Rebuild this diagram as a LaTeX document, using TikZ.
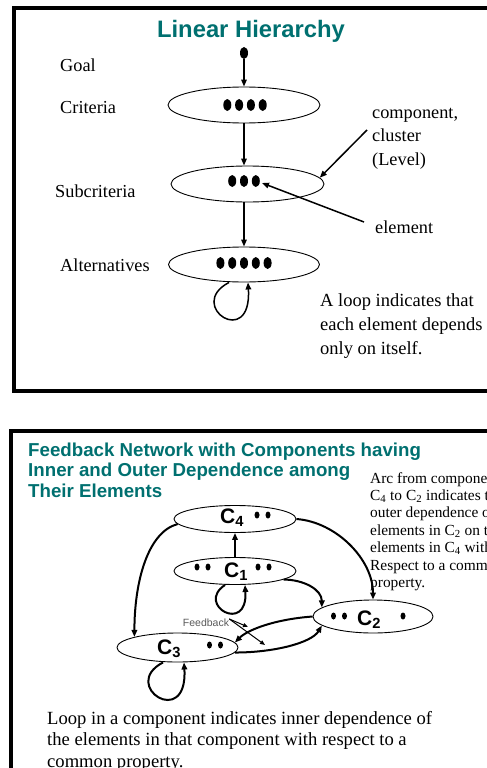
\documentclass[tikz,border=0pt]{standalone}
\usepackage{fontspec}
\setmainfont{Liberation Serif}
\setsansfont{Liberation Sans}
\usetikzlibrary{arrows.meta}
\usetikzlibrary{shapes.geometric}
\definecolor{titleTeal}{RGB}{0,112,112}
\definecolor{noteGrey}{RGB}{90,90,90}
\newcommand{\dotRow}[5]{%%
  %% A row of #2 filled dots centred on #1.
  \foreach \k in {1,...,#2}
    \fill ([xshift={(\k-(#2+1)/2)*#3}]#1) ellipse ({#4} and {#5});
}
\newcommand{\componentLabel}[3]{%%
  \node[componentStyle] (#1Label) at (#2) {C\textsubscript{#3}};
}

\begin{document}
\begin{tikzpicture}[%%
  x=1pt,y=-1pt,%%
  frameStyle/.style={draw,line width=4pt},%%
  levelStyle/.style={draw,ellipse,line width=0.9pt,inner sep=0pt},%%
  goalStyle/.style={ellipse,fill=black,inner sep=0pt,minimum width=8pt,minimum height=12pt},%%
  arrowStyle/.style={-{Triangle[length=7pt,width=5.5pt]},line width=1.5pt},%%
  netArrowStyle/.style={arrowStyle,line width=2pt},%%
  thinArrowStyle/.style={-{Triangle[length=5pt,width=4pt]},line width=1pt},%%
  labelStyle/.style={inner sep=0pt,anchor=base west,align=left,font=\fontsize{18.3}{23.5}\selectfont},%%
  noteStyle/.style={inner sep=0pt,anchor=base west,align=left,font=\fontsize{15.4}{17.4}\selectfont},%%
  titleStyle/.style={inner sep=0pt,anchor=base west,align=left,text=titleTeal,font=\sffamily\bfseries\fontsize{18.7}{20.8}\selectfont},%%
  componentStyle/.style={inner sep=0pt,anchor=base west,font=\sffamily\bfseries\fontsize{21}{24}\selectfont}
]
%%
%%
\useasboundingbox (0,0) rectangle (487,768);
\clip (0,0) rectangle (487,768);
%% The two frames.
\draw[frameStyle] (13.5,8.5) rectangle (530,390.5);
\draw[frameStyle] (11,431) rectangle (530,800);
%%
%% The linear hierarchy.
\node[titleStyle,anchor=base,font=\sffamily\bfseries\fontsize{23.8}{28}\selectfont] (hierarchyTitle) at (251,37.5) {Linear Hierarchy};
\node[goalStyle] (goal) at (244,53) {};
\node[levelStyle,minimum width=152pt,minimum height=36pt] (criteria) at (244,105) {};
\node[levelStyle,minimum width=153pt,minimum height=36pt] (subcriteria) at (247.5,184) {};
\node[levelStyle,minimum width=151pt,minimum height=35pt] (alternatives) at (244,264.5) {};
\coordinate (criteriaDots) at (245,105);
\coordinate (subcriteriaDots) at (244,181);
\coordinate (alternativesDots) at (244,263);
\dotRow{criteriaDots}{4}{11.8}{4}{6}
\dotRow{subcriteriaDots}{3}{11.8}{4}{6}
\dotRow{alternativesDots}{5}{11.8}{4}{6}
%% Level names.
\node[labelStyle] (goalLabel) at (60,71) {Goal};
\node[labelStyle] (criteriaLabel) at (60,113) {Criteria};
\node[labelStyle] (subcriteriaLabel) at (55,197) {Subcriteria};
\node[labelStyle] (alternativesLabel) at (60,271) {Alternatives};
%% Arrows down the hierarchy.
\draw[arrowStyle] (goal) -- (criteria);
\draw[arrowStyle] (criteria.south) -- (criteria.south |- subcriteria.north);
\draw[arrowStyle] (criteria.south |- subcriteria.south) -- (alternatives.north);
\draw[arrowStyle] ([xshift=-15]alternatives.south) .. controls +(-44,23) and +(4,68) .. ([xshift=4]alternatives.south);
%% Notes (multi-line nodes sit on their last line).
\node[labelStyle] (componentNote) at (372,165) {component,\\cluster\\(Level)};
\node[labelStyle] (elementNote) at (375,233) {element};
\node[labelStyle,font=\fontsize{18.5}{24}\selectfont] (loopNote) at (320,354) {A loop indicates that\\each element depends\\only on itself.};
\coordinate (componentTail) at (367,130);
\coordinate (elementTail) at (364,222);
\coordinate (elementTip) at (262,183);
\draw[arrowStyle] (componentTail) -- (subcriteria.5);
\draw[arrowStyle] (elementTail) -- (elementTip);
%%
%% The feedback network.
\node[titleStyle] (networkTitle) at (28,497.6) {Feedback Network with Components having\\Inner and Outer Dependence among\\Their Elements};
\node[levelStyle,minimum width=122pt,minimum height=27pt] (cFour) at (235,519) {};
\node[levelStyle,minimum width=122pt,minimum height=27pt] (cOne) at (235,571) {};
\node[levelStyle,minimum width=120pt,minimum height=33pt] (cTwo) at (373,616.5) {};
\node[levelStyle,minimum width=121pt,minimum height=29pt] (cThree) at (177.5,647.5) {};
\componentLabel{cFour}{220,523}{4}
\componentLabel{cOne}{224,577}{1}
\componentLabel{cTwo}{357,625}{2}
\componentLabel{cThree}{157,654}{3}
\coordinate (cFourDots) at (262.5,515);
\coordinate (cOneLeftDots) at (202.5,567);
\coordinate (cOneRightDots) at (263.5,567);
\coordinate (cTwoLeftDots) at (339,616);
\coordinate (cTwoRightDot) at (403,616);
\coordinate (cThreeDots) at (215,645);
\dotRow{cFourDots}{2}{11}{2.5}{3.5}
\dotRow{cOneLeftDots}{2}{11}{2.5}{3.5}
\dotRow{cOneRightDots}{2}{11}{2.5}{3.5}
\dotRow{cTwoLeftDots}{2}{11}{2.5}{3.5}
\dotRow{cTwoRightDot}{1}{11}{2.5}{3.5}
\dotRow{cThreeDots}{2}{11}{2.5}{3.5}
%% Outer dependence.
\draw[netArrowStyle] (cOne) -- (cFour);
\draw[netArrowStyle] (cFour.185) .. controls +(-30,8) and +(0,-55) .. (cThree.north west);
\draw[netArrowStyle] (cFour.east) .. controls +(40,3) and +(0,-40) .. (cTwo.north);
\draw[netArrowStyle] (cOne.-10) .. controls +(20,0) and +(0,-18) .. (cTwo.170);
\draw[netArrowStyle] (cThree.-5) .. controls +(40,0) and +(-10,17) .. (cTwo.190);
\draw[netArrowStyle] (cTwo.west) .. controls +(-40,3) and +(12,-12) .. (cThree.5);
%% Inner dependence.
\draw[netArrowStyle] ([xshift=-10]cOne.south) .. controls +(-30,20) and +(3,50) .. ([xshift=10]cOne.south);
\draw[netArrowStyle] ([xshift=-14.5]cThree.south) .. controls +(-44,23) and +(4,68) .. ([xshift=6.5]cThree.south);
%% Feedback.
\node[inner sep=0pt,text=noteGrey,font=\sffamily\fontsize{10.5}{12}\selectfont] (feedbackLabel) at (206,623) {Feedback};
\coordinate (feedbackTipA) at (248,627);
\coordinate (feedbackTipB) at (265,645);
\draw[thinArrowStyle] (feedbackLabel.north east) -- (feedbackTipA);
\draw[thinArrowStyle] (feedbackLabel.north east) -- (feedbackTipB);
%% Notes.
\node[noteStyle] (arcNote) at (370,587.4) {Arc from component\\C\textsubscript{4} to C\textsubscript{2} indicates the\\outer dependence of the\\elements in C\textsubscript{2} on the\\elements in C\textsubscript{4} with\\Respect to a common\\property.};
\node[labelStyle,font=\fontsize{18.6}{21.5}\selectfont] (loopComponentNote) at (47,767) {Loop in a component indicates inner dependence of\\the elements in that component with respect to a\\common property.};
\end{tikzpicture}
\end{document}
